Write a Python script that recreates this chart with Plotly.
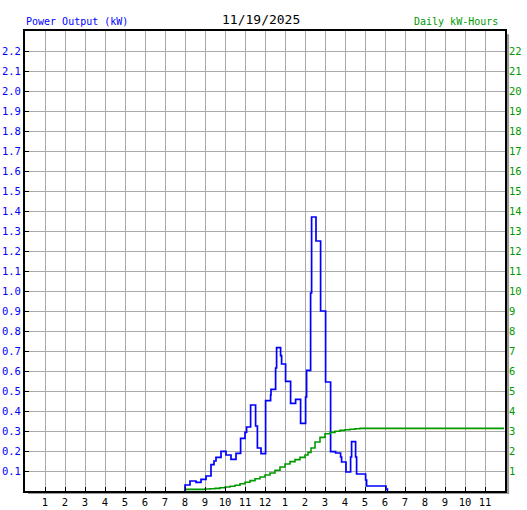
import plotly.graph_objects as go

# ---- data ----
hour_ticks = list(range(1, 24))
hour_labels = [str(h) for h in range(1, 12)] + ["12"] + [str(h) for h in range(1, 12)]
kw_ticks = [round(0.1 * i, 1) for i in range(1, 23)]
kwh_ticks = list(range(1, 23))

power_t = [8.0, 8.0, 8.25, 8.55, 8.8, 9.05, 9.3, 9.45, 9.55, 9.8, 10.05, 10.3, 10.55,
           10.78, 11.0, 11.08, 11.28, 11.53, 11.62, 11.8, 12.03, 12.28, 12.3, 12.53,
           12.58, 12.78, 12.83, 13.03, 13.28, 13.53, 13.78, 14.03, 14.08, 14.28, 14.33,
           14.55, 14.78, 15.03, 15.28, 15.53, 15.78, 15.83, 16.05, 16.28, 16.33, 16.53,
           16.58, 17.03, 17.08, 18.05, 18.12]
power_kw = [0.0, 0.03, 0.05, 0.043, 0.058, 0.075, 0.132, 0.15, 0.168, 0.198, 0.18, 0.158, 0.188,
            0.263, 0.293, 0.32, 0.43, 0.325, 0.215, 0.187, 0.452, 0.48, 0.508, 0.615,
            0.717, 0.677, 0.635, 0.548, 0.438, 0.458, 0.338, 0.47, 0.603, 0.99, 1.37,
            1.25, 0.9, 0.545, 0.197, 0.19, 0.17, 0.145, 0.095, 0.17, 0.247, 0.17,
            0.085, 0.055, 0.025, 0.01, 0.0]

energy_t = [8.0, 9.0, 9.25, 9.5, 9.75, 10.0, 10.25, 10.5, 10.75, 11.0, 11.25, 11.5, 11.75,
            12.0, 12.25, 12.5, 12.75, 13.0, 13.25, 13.5, 13.75, 14.0, 14.15, 14.3, 14.5,
            14.75, 15.0, 15.25, 15.5, 15.75, 16.0, 16.25, 16.5, 16.75, 23.95]
energy_kwh = [0.08, 0.1, 0.11, 0.13, 0.16, 0.2, 0.24, 0.29, 0.36, 0.44, 0.52, 0.61, 0.7,
              0.8, 0.9, 1.04, 1.2, 1.35, 1.47, 1.57, 1.68, 1.8, 1.93, 2.15, 2.45,
              2.68, 2.86, 2.93, 2.99, 3.03, 3.06, 3.09, 3.11, 3.13, 3.13]

BLUE = "#0000ff"
GREEN = "#009900"
FONT = "DejaVu Sans Mono"

fig = go.Figure()
fig.add_trace(go.Scatter(x=energy_t, y=energy_kwh, mode="lines", line=dict(color=GREEN, width=1.6, shape="hv"),
                         yaxis="y2", hoverinfo="skip"))
fig.add_trace(go.Scatter(x=power_t, y=power_kw, mode="lines", line=dict(color=BLUE, width=1.7, shape="hv"),
                         hoverinfo="skip"))

fig.update_layout(
    width=527, height=510,
    margin=dict(l=25, r=22, t=31, b=19, autoexpand=False),
    paper_bgcolor="white", plot_bgcolor="white",
    showlegend=False,
    font=dict(family=FONT, size=10, color="black"),
    xaxis=dict(range=[0, 24], tickvals=hour_ticks, ticktext=hour_labels, automargin=False,
               showgrid=True, gridcolor="#aaaaaa", gridwidth=1,
               ticks="inside", ticklen=4, tickcolor="black", tickwidth=1,
               showline=True, linecolor="black", linewidth=2, mirror=True,
               zeroline=False, tickfont=dict(family=FONT, size=10.5, color="black")),
    yaxis=dict(range=[0, 2.3], tickvals=kw_ticks, ticktext=[f"{v:.1f}" for v in kw_ticks],
               automargin=False,
               showgrid=True, gridcolor="#aaaaaa", gridwidth=1,
               ticks="inside", ticklen=4, tickcolor="black", tickwidth=1,
               showline=True, linecolor="black", linewidth=2, mirror=True,
               zeroline=False, tickfont=dict(family=FONT, size=10.5, color=BLUE)),
    yaxis2=dict(range=[0, 23], tickvals=kwh_ticks, ticktext=[str(v) for v in kwh_ticks],
                automargin=False, ticklabelstandoff=3,
                overlaying="y", side="right", showgrid=False, zeroline=False,
                ticks="", showline=False,
                tickfont=dict(family=FONT, size=10.5, color=GREEN)),
    annotations=[
        dict(text="11/19/2025", xref="paper", yref="paper", x=0.4917, y=1.024,
             xanchor="center", yanchor="middle", showarrow=False,
             font=dict(family=FONT, size=13, color="black")),
        dict(text="Power Output (kW)", xref="paper", yref="paper", x=-0.002, y=1.0196,
             xanchor="left", yanchor="middle", showarrow=False,
             font=dict(family=FONT, size=10, color=BLUE)),
        dict(text="Daily kW-Hours", xref="paper", yref="paper", x=0.9896, y=1.0196,
             xanchor="right", yanchor="middle", showarrow=False,
             font=dict(family=FONT, size=10, color=GREEN)),
    ],
    shapes=[
        dict(type="rect", xref="paper", yref="paper", x0=1.0025, x1=1.0085, y0=-0.0065, y1=0.993,
             fillcolor="#999999", line=dict(width=0), layer="below"),
        dict(type="rect", xref="paper", yref="paper", x0=0.006, x1=1.0085, y0=-0.0065, y1=-0.001,
             fillcolor="#999999", line=dict(width=0), layer="below"),
    ],
)

fig.write_html("out.html", config={"displayModeBar": False},
               post_script="document.body.style.margin='0px';")
